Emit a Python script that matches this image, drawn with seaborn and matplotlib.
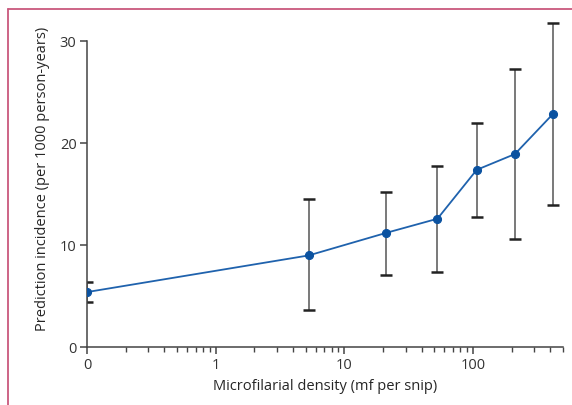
import numpy as np
import pandas as pd
import matplotlib
matplotlib.use("Agg")
import matplotlib.pyplot as plt
from matplotlib.lines import Line2D
from matplotlib.ticker import FixedLocator, LogLocator, NullFormatter
import seaborn as sns

# density groups (0 drawn at 0.1 on the log axis)
density = [0.1, 5.3, 21, 53, 107, 212, 420]
incidence = [5.4, 9.0, 11.2, 12.6, 17.4, 18.95, 22.9]
ci_low = [4.45, 3.6, 7.1, 7.35, 12.8, 10.65, 13.95]
ci_high = [6.35, 14.5, 15.2, 17.8, 21.95, 27.3, 31.85]
xtick_pos = [0.1, 1, 10, 100]
xtick_labels = ["0", "1", "10", "100"]
ytick_pos = [0, 10, 20, 30]

df = pd.DataFrame({"density": density, "incidence": incidence,
                   "low": ci_low, "high": ci_high})

sns.set_style("ticks")
plt.rcParams["font.family"] = ["Open Sans", "DejaVu Sans"]
plt.rcParams["axes.edgecolor"] = "#444444"
plt.rcParams["xtick.color"] = "#444444"
plt.rcParams["ytick.color"] = "#444444"
plt.rcParams["text.color"] = "#333333"

fig = plt.figure(figsize=(5.72, 4.05), dpi=100)
ax = fig.add_axes([0.152, 0.143, 0.832, 0.830])

#error bars: grey stems, dark caps
yerr = [df["incidence"] - df["low"], df["high"] - df["incidence"]]
eb = ax.errorbar(df["density"], df["incidence"], yerr=yerr, fmt="none",
                 ecolor="#6e6e6e", elinewidth=1.3, capsize=4.5, capthick=1.8, zorder=2)
for cap in eb[1]:
    cap.set_markeredgecolor("#222222")

sns.lineplot(data=df, x="density", y="incidence", ax=ax, color="#1f62ad",
             linewidth=1.3, marker="o", markersize=5.8, markerfacecolor="#0b52a0",
             markeredgecolor="#0b52a0", zorder=3)

ax.set_xscale("log")
ax.set_xlim(0.1, 500)
ax.set_ylim(0, 33)
ax.spines["top"].set_visible(False)
ax.spines["right"].set_visible(False)
ax.spines["left"].set_bounds(0, 30)
ax.spines["left"].set_linewidth(1.1)
ax.spines["bottom"].set_linewidth(1.1)

ax.xaxis.set_major_locator(FixedLocator(xtick_pos))
ax.set_xticklabels(xtick_labels)
ax.xaxis.set_minor_locator(LogLocator(base=10, subs=np.arange(2, 10)))
ax.xaxis.set_minor_formatter(NullFormatter())
ax.set_yticks(ytick_pos)
ax.tick_params(axis="both", which="major", length=5, width=1.1, labelsize=10.5,
               labelcolor="#333333", pad=2.5)
ax.tick_params(axis="x", which="minor", length=3.5, width=1.0)

ax.set_xlabel("Microfilarial density (mf per snip)", fontsize=10.5, labelpad=5)
ax.set_ylabel("Prediction incidence (per 1000 person-years)", fontsize=10.5, labelpad=7)

# pink frame on left and top
pink = "#c9587d"
fig.add_artist(Line2D([8 / 572, 8 / 572], [0, 1 - 9 / 405], transform=fig.transFigure,
                      color=pink, linewidth=1.3))
fig.add_artist(Line2D([8 / 572, 1], [1 - 9 / 405, 1 - 9 / 405], transform=fig.transFigure,
                      color=pink, linewidth=1.3))

fig.savefig("out.png", dpi=100)
